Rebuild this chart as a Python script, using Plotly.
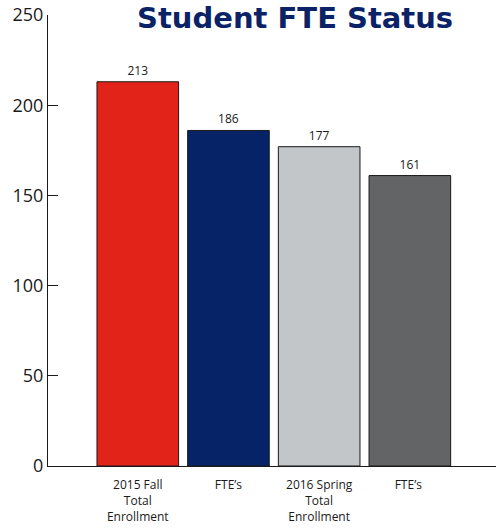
import plotly.graph_objects as go

categories = ["2015 Fall<br>Total<br>Enrollment", "FTE’s", "2016 Spring<br>Total<br>Enrollment", "FTE’s "]
values = [213, 186, 177, 161]
bar_colors = ["#e2231a", "#052366", "#c3c6c9", "#636466"]
y_ticks = [0, 50, 100, 150, 200, 250]

fig = go.Figure()
fig.add_bar(
    x=categories, y=values,
    marker=dict(color=bar_colors, line=dict(color="#1a1a1a", width=1)),
    width=0.9,
    text=[str(v) for v in values], textposition="outside",
    textfont=dict(size=12, color="#1a1a1a"),
    cliponaxis=False,
)

fig.update_layout(
    width=496, height=530,
    margin=dict(l=48, r=0, t=15, b=64),
    plot_bgcolor="white", paper_bgcolor="white",
    font=dict(family="Open Sans, Lato, sans-serif", color="#1a1a1a"),
    showlegend=False,
    title=dict(text="<b>Student FTE Status</b>", x=0.595, xanchor="center",
               y=0.967, yanchor="middle",
               font=dict(size=29, color="#0b2266", family="DejaVu Sans, sans-serif")),
)
fig.update_xaxes(
    range=[-0.99, 3.95], showline=True, linecolor="#1a1a1a", linewidth=1,
    ticks="outside", ticklen=8, tickcolor="rgba(0,0,0,0)",
    tickfont=dict(size=12), showgrid=False, automargin=False,
)
fig.update_yaxes(
    range=[0, 250], tickvals=y_ticks, showline=True, linecolor="#1a1a1a",
    linewidth=1, ticks="inside", ticklen=10, tickcolor="#1a1a1a",
    tickfont=dict(size=18), showgrid=False, zeroline=False, automargin=False,
)

# drop the default 8px page margin so the figure sits at the window corner
fig.write_html("out.html", config={"displayModeBar": False},
               post_script="document.body.style.margin='0px';")
